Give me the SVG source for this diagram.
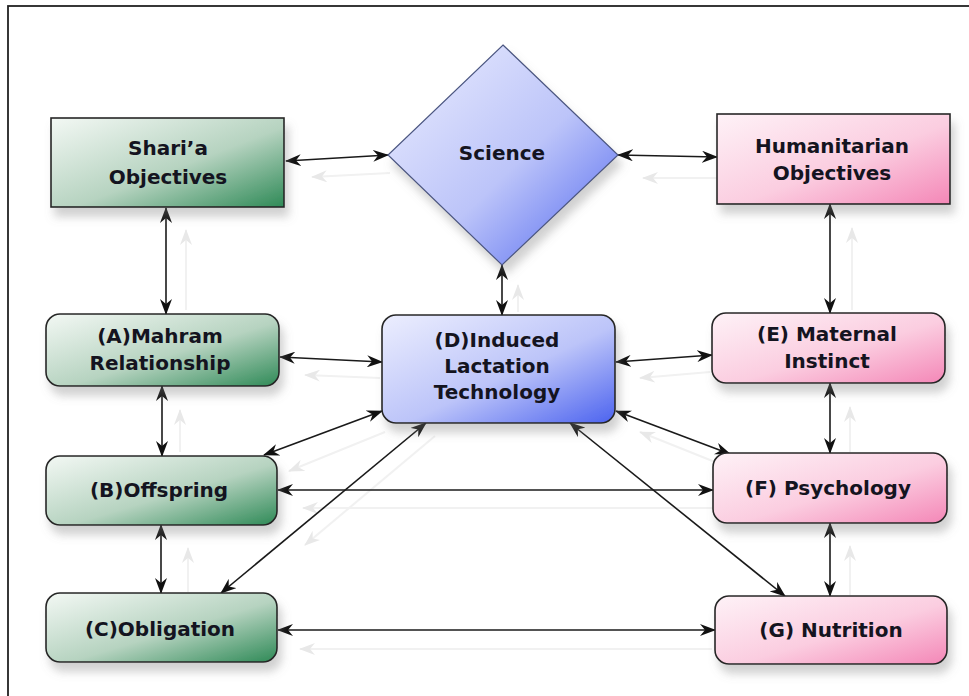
<svg xmlns="http://www.w3.org/2000/svg" width="969" height="696" viewBox="0 0 969 696">
<defs>
<linearGradient id="gGreen" x1="0" y1="0" x2="1" y2="1">
<stop offset="0" stop-color="#f3f8f4"/><stop offset="0.55" stop-color="#b6d3c0"/><stop offset="1" stop-color="#2f8a57"/>
</linearGradient>
<linearGradient id="gBlue" x1="0" y1="0" x2="1" y2="1">
<stop offset="0" stop-color="#eceefe"/><stop offset="0.55" stop-color="#bcc4f9"/><stop offset="1" stop-color="#4c63ef"/>
</linearGradient>
<linearGradient id="gPink" x1="0" y1="0" x2="1" y2="1">
<stop offset="0" stop-color="#fef2f7"/><stop offset="0.55" stop-color="#fbcde0"/><stop offset="1" stop-color="#f487b7"/>
</linearGradient>
<filter id="sh" x="-20%" y="-20%" width="150%" height="160%">
<feDropShadow dx="4" dy="9" stdDeviation="5" flood-color="#7a7a7a" flood-opacity="0.35"/>
</filter>
<marker id="ah" viewBox="0 0 16 12" refX="15" refY="6" markerWidth="16" markerHeight="12" markerUnits="userSpaceOnUse" orient="auto-start-reverse">
<path d="M0,0 L16,6 L0,12 L5,6 z" fill="#111"/>
</marker>
<marker id="ahs" viewBox="0 0 16 12" refX="15" refY="6" markerWidth="16" markerHeight="12" markerUnits="userSpaceOnUse" orient="auto-start-reverse">
<path d="M0,0 L16,6 L0,12 L5,6 z" fill="#e8e8e8"/>
</marker>
</defs>
<style>
.box{stroke:#262626;stroke-width:1.6;filter:url(#sh)}
.t{font-family:"DejaVu Sans","Liberation Sans",sans-serif;font-weight:bold;font-size:20px;fill:#141420;text-anchor:middle}
.c{stroke:#1a1a1a;stroke-width:1.6;fill:none;marker-start:url(#ah);marker-end:url(#ah)}
.s{stroke:#f1f1f1;stroke-width:2;fill:none;marker-start:url(#ahs)}
</style>
<rect x="8" y="6" width="975" height="700" fill="#fff" stroke="#222" stroke-width="1.8"/>

<g id="shadow-connectors">
<line class="s" x1="312" y1="177" x2="390" y2="173"/>
<line class="s" x1="643" y1="178" x2="720" y2="178"/>
<line class="s" x1="186" y1="230" x2="186" y2="310"/>
<line class="s" x1="518" y1="285" x2="518" y2="312"/>
<line class="s" x1="852" y1="228" x2="852" y2="310"/>
<line class="s" x1="305" y1="375" x2="380" y2="378"/>
<line class="s" x1="640" y1="378" x2="710" y2="372"/>
<line class="s" x1="180" y1="410" x2="180" y2="452"/>
<line class="s" x1="289" y1="471" x2="385" y2="432"/>
<line class="s" x1="640" y1="432" x2="715" y2="462"/>
<line class="s" x1="303" y1="508" x2="712" y2="508"/>
<line class="s" x1="850" y1="407" x2="850" y2="452"/>
<line class="s" x1="305" y1="545" x2="435" y2="436"/>
<line class="s" x1="188" y1="548" x2="188" y2="592"/>
<line class="s" x1="850" y1="546" x2="850" y2="595"/>
<line class="s" x1="300" y1="649" x2="712" y2="649"/>
</g>

<g id="connectors">
<line class="c" x1="286" y1="161" x2="388" y2="155"/>
<line class="c" x1="618" y1="155" x2="717" y2="157"/>
<line class="c" x1="166" y1="208" x2="166" y2="314"/>
<line class="c" x1="502" y1="265" x2="502" y2="315"/>
<line class="c" x1="830" y1="204" x2="830" y2="313"/>
<line class="c" x1="280" y1="357" x2="382" y2="362"/>
<line class="c" x1="616" y1="362" x2="712" y2="355"/>
<line class="c" x1="162" y1="386" x2="162" y2="456"/>
<line class="c" x1="264" y1="455" x2="382" y2="411"/>
<line class="c" x1="616" y1="411" x2="730" y2="454"/>
<line class="c" x1="278" y1="490" x2="713" y2="490"/>
<line class="c" x1="830" y1="383" x2="830" y2="453"/>
<line class="c" x1="426" y1="423" x2="221" y2="593"/>
<line class="c" x1="570" y1="423" x2="785" y2="596"/>
<line class="c" x1="161" y1="525" x2="161" y2="593"/>
<line class="c" x1="830" y1="523" x2="830" y2="596"/>
<line class="c" x1="278" y1="630" x2="715" y2="630"/>
</g>

<g id="shari-a-objectives">
<rect class="box" x="51" y="118" width="233" height="89" fill="url(#gGreen)"/>
<text class="t" x="168" y="155">Shari’a</text>
<text class="t" x="168" y="184">Objectives</text>
</g>
<g id="science">
<polygon class="box" points="503,45 618,155 502,265 388,155" fill="url(#gBlue)" style="stroke:#4b5680;stroke-width:1.2"/>
<text class="t" x="502" y="160">Science</text>
</g>
<g id="humanitarian-objectives">
<rect class="box" x="717" y="114" width="233" height="90" fill="url(#gPink)"/>
<text class="t" x="832" y="153">Humanitarian</text>
<text class="t" x="832" y="180">Objectives</text>
</g>
<g id="a-mahram">
<rect class="box" x="46" y="314" width="233" height="72" rx="14" fill="url(#gGreen)"/>
<text class="t" x="160" y="343">(A)Mahram</text>
<text class="t" x="160" y="370">Relationship</text>
</g>
<g id="d-induced">
<rect class="box" x="382" y="315" width="233" height="108" rx="14" fill="url(#gBlue)"/>
<text class="t" x="497" y="347">(D)Induced</text>
<text class="t" x="497" y="373">Lactation</text>
<text class="t" x="497" y="399">Technology</text>
</g>
<g id="e-maternal">
<rect class="box" x="712" y="313" width="233" height="70" rx="14" fill="url(#gPink)"/>
<text class="t" x="827" y="341">(E) Maternal</text>
<text class="t" x="827" y="368">Instinct</text>
</g>
<g id="b-offspring">
<rect class="box" x="46" y="456" width="231" height="69" rx="14" fill="url(#gGreen)"/>
<text class="t" x="159" y="497">(B)Offspring</text>
</g>
<g id="f-psychology">
<rect class="box" x="713" y="453" width="234" height="70" rx="14" fill="url(#gPink)"/>
<text class="t" x="828" y="495">(F) Psychology</text>
</g>
<g id="c-obligation">
<rect class="box" x="46" y="593" width="231" height="69" rx="14" fill="url(#gGreen)"/>
<text class="t" x="160" y="636">(C)Obligation</text>
</g>
<g id="g-nutrition">
<rect class="box" x="715" y="596" width="232" height="68" rx="14" fill="url(#gPink)"/>
<text class="t" x="831" y="637">(G) Nutrition</text>
</g>
</svg>
